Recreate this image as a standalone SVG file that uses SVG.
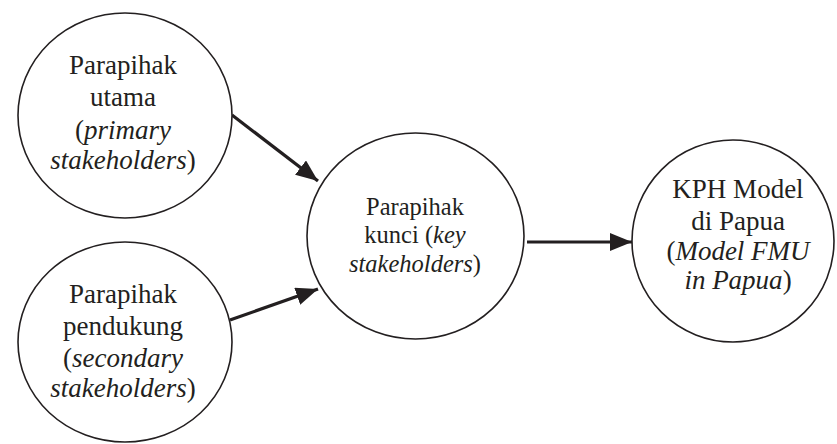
<svg xmlns="http://www.w3.org/2000/svg" width="837" height="444" viewBox="0 0 837 444">
<defs>
<marker id="ah" viewBox="0 0 22 18" refX="22" refY="9" markerWidth="22" markerHeight="18" markerUnits="userSpaceOnUse" orient="auto">
<path d="M0,0 L22,9 L0,18 Z" fill="#231f20"/>
</marker>
<style>
.node ellipse{fill:#fff;stroke:#231f20;stroke-width:1.6}
.t{font-family:'Liberation Serif','Times New Roman',Times,serif;fill:#231f20;text-anchor:middle}
.big{font-size:27px}
.mid{font-size:24.5px}
.it{font-style:italic}
.edge{stroke:#231f20;stroke-width:3.2;fill:none;marker-end:url(#ah)}
</style>
</defs>
<rect width="837" height="444" fill="#fff"/>
<g id="connectors">
<line class="edge" x1="232" y1="115" x2="318" y2="181"/>
<line class="edge" x1="230" y1="320" x2="318" y2="289"/>
<line class="edge" x1="527" y1="242" x2="632" y2="242"/>
</g>
<g id="primary" class="node">
<ellipse cx="125" cy="115.5" rx="107" ry="102.5"/>
<text class="t big" x="123" y="74">Parapihak</text>
<text class="t big" x="123" y="106">utama</text>
<text class="t big" x="123" y="139">(<tspan class="it">primary</tspan></text>
<text class="t big" x="123" y="169"><tspan class="it">stakeholders</tspan>)</text>
</g>
<g id="secondary" class="node">
<ellipse cx="125" cy="342" rx="107" ry="100"/>
<text class="t big" x="123" y="303">Parapihak</text>
<text class="t big" x="123" y="335">pendukung</text>
<text class="t big" x="123" y="367">(<tspan class="it">secondary</tspan></text>
<text class="t big" x="123" y="397"><tspan class="it">stakeholders</tspan>)</text>
</g>
<g id="key" class="node">
<ellipse cx="415.5" cy="236" rx="108.5" ry="103"/>
<text class="t mid" x="415" y="215">Parapihak</text>
<text class="t mid" x="415" y="243">kunci (<tspan class="it">key</tspan></text>
<text class="t mid" x="415" y="272"><tspan class="it">stakeholders</tspan>)</text>
</g>
<g id="kph" class="node">
<ellipse cx="733" cy="241" rx="101" ry="101"/>
<text class="t big" x="738" y="198">KPH Model</text>
<text class="t big" x="738" y="230">di Papua</text>
<text class="t big" x="738" y="260">(<tspan class="it">Model FMU</tspan></text>
<text class="t big" x="738" y="289"><tspan class="it">in Papua</tspan>)</text>
</g>
</svg>
